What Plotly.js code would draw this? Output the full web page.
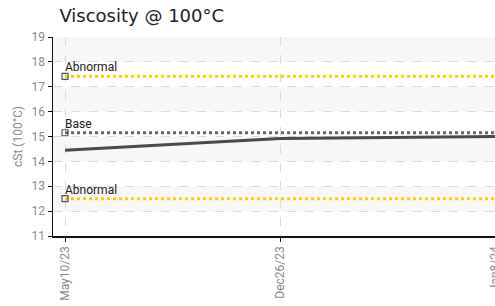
<!DOCTYPE html>
<html><head><meta charset="utf-8">
<script src="https://cdn.plot.ly/plotly-3.0.1.min.js"></script>
<style>body{margin:0;padding:0;}#chart{width:495px;height:306px;}</style>
</head><body><div id="chart"></div>
<script>
var categories = ["May10/23", "Dec26/23", "Jan8/24"];
var viscosity = [14.45, 14.92, 15.0];
var baseValue = 15.15;
var abnormalHigh = 17.42;
var abnormalLow = 12.5;
var yTicks = [11, 12, 13, 14, 15, 16, 17, 18, 19];

var tickFont = {family: "Liberation Sans Narrow, Roboto, sans-serif", size: 12, color: "#8a8a8a"};
var labelFont = {family: "Liberation Sans Narrow, Roboto, sans-serif", size: 12, color: "#1a1a1a"};

function refLine(v, color, name) {
  return {
    x: categories, y: categories.map(function(){return v;}),
    type: "scatter", mode: "lines+markers", name: name,
    line: {color: color, width: 3, dash: "dot"},
    marker: {symbol: "square-open", size: categories.map(function(c,i){return i===0?6:0;}), color: "#111", line: {width: 1.2, color: "#111"}},
    hoverinfo: "skip"
  };
}

var traces = [
  refLine(abnormalHigh, "#ffcc00", "Abnormal"),
  refLine(abnormalLow, "#ffcc00", "Abnormal"),
  refLine(baseValue, "#666666", "Base"),
  {x: categories, y: viscosity, type: "scatter", mode: "lines", line: {color: "#4a4a4a", width: 3}, name: "Viscosity"}
];

var shapes = [];
for (var i = 1; i < yTicks.length; i += 2) {
  shapes.push({type: "rect", xref: "paper", yref: "y", x0: 0, x1: 1, y0: yTicks[i], y1: yTicks[i+1] !== undefined ? yTicks[i+1] : yTicks[i]+1,
    fillcolor: "#f7f7f7", line: {width: 0}, layer: "below"});
}

var annotations = [
  {text: "Abnormal", v: abnormalHigh},
  {text: "Base", v: baseValue},
  {text: "Abnormal", v: abnormalLow}
].map(function(a){
  return {x: categories[0], y: a.v, xref: "x", yref: "y", text: a.text, showarrow: false,
    xanchor: "left", yanchor: "bottom", xshift: -2, yshift: 0, font: labelFont};
});

var layout = {
  width: 495, height: 306,
  margin: {l: 53, r: 0, t: 37, b: 70, pad: 0},
  paper_bgcolor: "#ffffff", plot_bgcolor: "#ffffff",
  showlegend: false,
  title: {text: "Viscosity @ 100°C", x: 0.12, xanchor: "left", y: 0.95, yanchor: "middle",
    font: {family: "DejaVu Sans, Verdana, sans-serif", size: 18, color: "#222"}},
  xaxis: {type: "category", range: [-0.056, 2.0], tickangle: -90, tickfont: tickFont,
    showgrid: true, gridcolor: "#dadada", griddash: "dash", gridwidth: 1,
    showline: true, linecolor: "#111", linewidth: 1.5, ticks: "outside", ticklen: 4, tickcolor: "#111",
    zeroline: false, fixedrange: true},
  yaxis: {range: [11, 19], tickvals: yTicks, tickfont: tickFont,
    showgrid: true, gridcolor: "#dadada", griddash: "dash", gridwidth: 1,
    showline: true, linecolor: "#111", linewidth: 1.5, ticks: "outside", ticklen: 4, tickcolor: "#111",
    zeroline: false,
    title: {text: "cSt (100°C)", font: {family: "Liberation Sans Narrow, Roboto, sans-serif", size: 12, color: "#8a8a8a"}, standoff: 6}},
  shapes: shapes,
  annotations: annotations
};

Plotly.newPlot("chart", traces, layout, {displayModeBar: false, staticPlot: true});
</script></body></html>
